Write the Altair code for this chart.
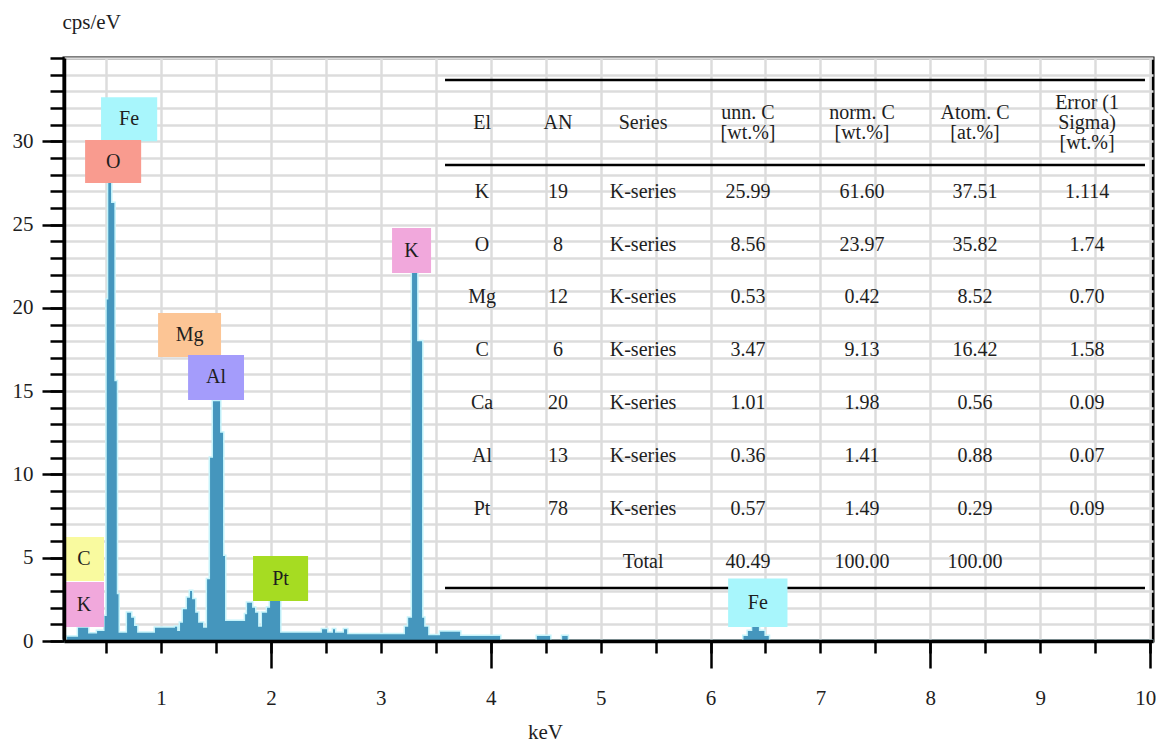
import altair as alt
import pandas as pd

# ---------------- data ----------------
# EDS spectrum, step breakpoints (keV) and intensity (cps/eV)
spec_kev = [0.117, 0.145, 0.245, 0.336, 0.418, 0.486, 0.506, 0.520, 0.545, 0.575, 0.597, 0.613,
            0.691, 0.727, 0.754, 0.782, 0.945, 1.127, 1.146, 1.173, 1.200, 1.236, 1.264, 1.282,
            1.310, 1.337, 1.382, 1.419, 1.446, 1.473, 1.537, 1.564, 1.582, 1.765, 1.783, 1.828, 1.855,
            1.883, 1.919, 1.965, 1.992, 2.083, 2.465, 2.511, 2.565, 2.583, 2.665, 2.693, 3.220,
            3.249, 3.284, 3.330, 3.375, 3.394, 3.430, 3.539, 3.721, 4.085, 4.420, 4.540, 4.650,
            4.700, 6.300, 6.340, 6.380, 6.440, 6.490, 6.530, 10.03]
spec_cps = [0.05, 0.25, 0.8, 0.45, 0.6, 1.5, 20.5, 28.5, 26.3, 15.6, 2.8, 0.5,
            1.7, 1.4, 0.9, 0.5, 0.8, 0.85, 0.6, 1.1, 1.9, 2.6, 3.0, 2.5,
            1.7, 1.1, 0.8, 3.7, 11.0, 14.4, 12.5, 5.1, 1.2, 1.6, 2.3, 2.0, 1.7,
            0.85, 1.7, 2.0, 2.6, 0.5, 0.7, 0.5, 0.7, 0.5, 0.7, 0.4, 0.85,
            1.4, 22.1, 18.0, 1.4, 0.85, 0.35, 0.55, 0.3, 0.0, 0.3, 0.0, 0.3,
            0.0, 0.3, 0.6, 0.95, 0.6, 0.3, 0.0, 0.0]

# element markers
lbl_names = ["Fe", "O", "Mg", "Al", "K", "C", "K", "Pt", "Fe"]
lbl_colors = ["#a8f6fc", "#f99b8f", "#fcc595", "#a49cfb", "#f1a8dc", "#f9fa9f", "#f1a8dc", "#a6dc22", "#a8f6fc"]

# quantification table
tbl_header = [["El"], ["AN"], ["Series"], ["unn. C", "[wt.%]"], ["norm. C", "[wt.%]"],
              ["Atom. C", "[at.%]"], ["Error (1", "Sigma)", "[wt.%]"]]
tbl_el = ["K", "O", "Mg", "C", "Ca", "Al", "Pt"]
tbl_an = ["19", "8", "12", "6", "20", "13", "78"]
tbl_series = ["K-series"] * 7
tbl_unn = ["25.99", "8.56", "0.53", "3.47", "1.01", "0.36", "0.57"]
tbl_norm = ["61.60", "23.97", "0.42", "9.13", "1.98", "1.41", "1.49"]
tbl_atom = ["37.51", "35.82", "8.52", "16.42", "0.56", "0.88", "0.29"]
tbl_err = ["1.114", "1.74", "0.70", "1.58", "0.09", "0.07", "0.09"]
tbl_total = ["", "", "Total", "40.49", "100.00", "100.00", ""]

x_tick_labels = [1, 2, 3, 4, 5, 6, 7, 8, 9, 10]
y_tick_labels = [0, 5, 10, 15, 20, 25, 30]

# ---------------- layout (in data units) ----------------
X_DOMAIN = [0.117, 10.026]
Y_DOMAIN = [0, 35]
lbl_x0 = [0.454, 0.309, 0.973, 1.246, 3.102, 0.117, 0.117, 1.837, 6.16]
lbl_x1 = [0.965, 0.819, 1.546, 1.755, 3.457, 0.481, 0.481, 2.338, 6.70]
lbl_y0 = [30.0, 27.49, 17.05, 14.47, 22.09, 3.60, 0.84, 2.40, 0.84]
lbl_y1 = [32.65, 30.07, 19.69, 17.17, 24.79, 6.24, 3.54, 5.10, 3.75]
col_kev = [3.921, 4.612, 5.386, 6.341, 7.378, 8.407, 9.426]
row_cps = [26.96, 23.77, 20.65, 17.47, 14.29, 11.11, 7.92, 4.74]
header_cps = 31.10
header_line = 1.22
rule_cps = [33.68, 28.58, 3.18]
rule_x = [3.584, 9.953]

FONT = "Liberation Serif"
TXT = "#1e1e1e"

spec = pd.DataFrame({"keV": spec_kev, "cps": spec_cps})
labels = pd.DataFrame({
    "name": lbl_names, "color": lbl_colors,
    "x0": lbl_x0, "x1": lbl_x1, "y0": lbl_y0, "y1": lbl_y1,
})
labels["xc"] = (labels.x0 + labels.x1) / 2
labels["yc"] = (labels.y0 + labels.y1) / 2

cells = []
for j, lines in enumerate(tbl_header):
    n = len(lines)
    for k, t in enumerate(lines):
        cells.append({"t": t, "x": col_kev[j], "y": header_cps + ((n - 1) / 2 - k) * header_line})
cols = [tbl_el, tbl_an, tbl_series, tbl_unn, tbl_norm, tbl_atom, tbl_err]
for i in range(len(tbl_el)):
    for j, c in enumerate(cols):
        cells.append({"t": c[i], "x": col_kev[j], "y": row_cps[i]})
for j, t in enumerate(tbl_total):
    if t:
        cells.append({"t": t, "x": col_kev[j], "y": row_cps[7]})
cells = pd.DataFrame(cells)
rules = pd.DataFrame({"y": rule_cps, "x0": [rule_x[0]] * 3, "x1": [rule_x[1]] * 3})

xs = alt.Scale(domain=X_DOMAIN, nice=False, zero=False)
ys = alt.Scale(domain=Y_DOMAIN, nice=False, zero=False)

half_steps = [round(0.5 * k, 1) for k in range(1, 21)]
unit_steps = list(range(0, 36))

ax_x_minor = alt.Axis(orient="bottom", values=half_steps, grid=True, gridColor="#dcdcdc", gridWidth=2.5,
                      ticks=True, tickSize=12, tickWidth=2.5, tickColor="black",
                      labels=False, domain=False, title=None, zindex=0)
ax_x_major = alt.Axis(orient="bottom", values=[2, 4, 6, 8, 10], grid=False, ticks=True, tickSize=27,
                      tickWidth=2.5, tickColor="black", labels=False, domain=True, domainColor="black",
                      domainWidth=3.5, title=None, zindex=1)
ax_x_labels = alt.Axis(orient="bottom", values=x_tick_labels, grid=False, ticks=False, domain=False,
                       labelPadding=46, labelFont=FONT, labelFontSize=21, labelColor=TXT,
                       labelFlush=False, labelOverlap=False,
                       labelOffset={"condition": {"test": "datum.value == 10", "value": -5}, "value": 0},
                       title="keV", titleFont=FONT, titleFontSize=21, titleFontWeight="normal",
                       titleColor=TXT, titleX=481, titleY=97, titleAlign="center",
                       titleBaseline="alphabetic", zindex=1)
ax_y_minor = alt.Axis(orient="left", values=unit_steps, grid=True, gridColor="#dcdcdc", gridWidth=2.5,
                      ticks=True, tickSize=14, tickWidth=2.5, tickColor="black",
                      labels=False, domain=False, title=None, zindex=0)
ax_y_major = alt.Axis(orient="left", values=y_tick_labels, grid=False, ticks=True, tickSize=22,
                      tickWidth=2.5, tickColor="black", labels=True, labelPadding=9, labelFont=FONT,
                      labelFontSize=21, labelColor=TXT, labelFlush=False, labelOverlap=False,
                      domain=True, domainColor="black", domainWidth=3.5,
                      title="cps/eV", titleFont=FONT, titleFontSize=21, titleFontWeight="normal",
                      titleColor=TXT, titleAngle=0, titleX=-2, titleY=-36, titleAlign="left",
                      titleBaseline="middle", zindex=1)

rule_layer = alt.Chart(rules).mark_rule(color="black", strokeWidth=2.5).encode(
    x=alt.X("x0:Q", scale=xs, axis=ax_x_labels),
    x2="x1:Q",
    y=alt.Y("y:Q", scale=ys, axis=None),
)

glow = alt.Chart(spec).mark_area(interpolate="step-after", color="#c6f4fb", stroke="#c6f4fb",
                                 strokeWidth=3, opacity=1).encode(
    x=alt.X("keV:Q", scale=xs, axis=ax_x_minor),
    y=alt.Y("cps:Q", scale=ys, axis=ax_y_minor),
)

area = alt.Chart(spec).mark_area(interpolate="step-after", color="#4596bd", opacity=1).encode(
    x=alt.X("keV:Q", scale=xs, axis=ax_x_major),
    y=alt.Y("cps:Q", scale=ys, axis=ax_y_major),
)

boxes = alt.Chart(labels).mark_rect(opacity=1).encode(
    x=alt.X("x0:Q", scale=xs, axis=None), x2="x1:Q",
    y=alt.Y("y0:Q", scale=ys, axis=None), y2="y1:Q",
    color=alt.Color("color:N", scale=None, legend=None),
)

box_text = alt.Chart(labels).mark_text(font=FONT, fontSize=20, color=TXT, baseline="middle",
                                       align="center").encode(
    x=alt.X("xc:Q", scale=xs, axis=None),
    y=alt.Y("yc:Q", scale=ys, axis=None),
    text="name:N",
)

table_text = alt.Chart(cells).mark_text(font=FONT, fontSize=20, color=TXT, baseline="middle",
                                        align="center").encode(
    x=alt.X("x:Q", scale=xs, axis=None),
    y=alt.Y("y:Q", scale=ys, axis=None),
    text="t:N",
)

chart = alt.layer(rule_layer, glow, area, boxes, box_text, table_text).resolve_axis(
    x="independent", y="independent"
).properties(
    width=1089, height=583,
    autosize=alt.AutoSizeParams(type="none"),
    padding={"left": 56, "top": 50, "right": 3, "bottom": 102},
    background="white",
).configure_view(stroke="black", strokeWidth=3)

chart.save("out.html", embed_options={"renderer": "svg", "actions": False})
